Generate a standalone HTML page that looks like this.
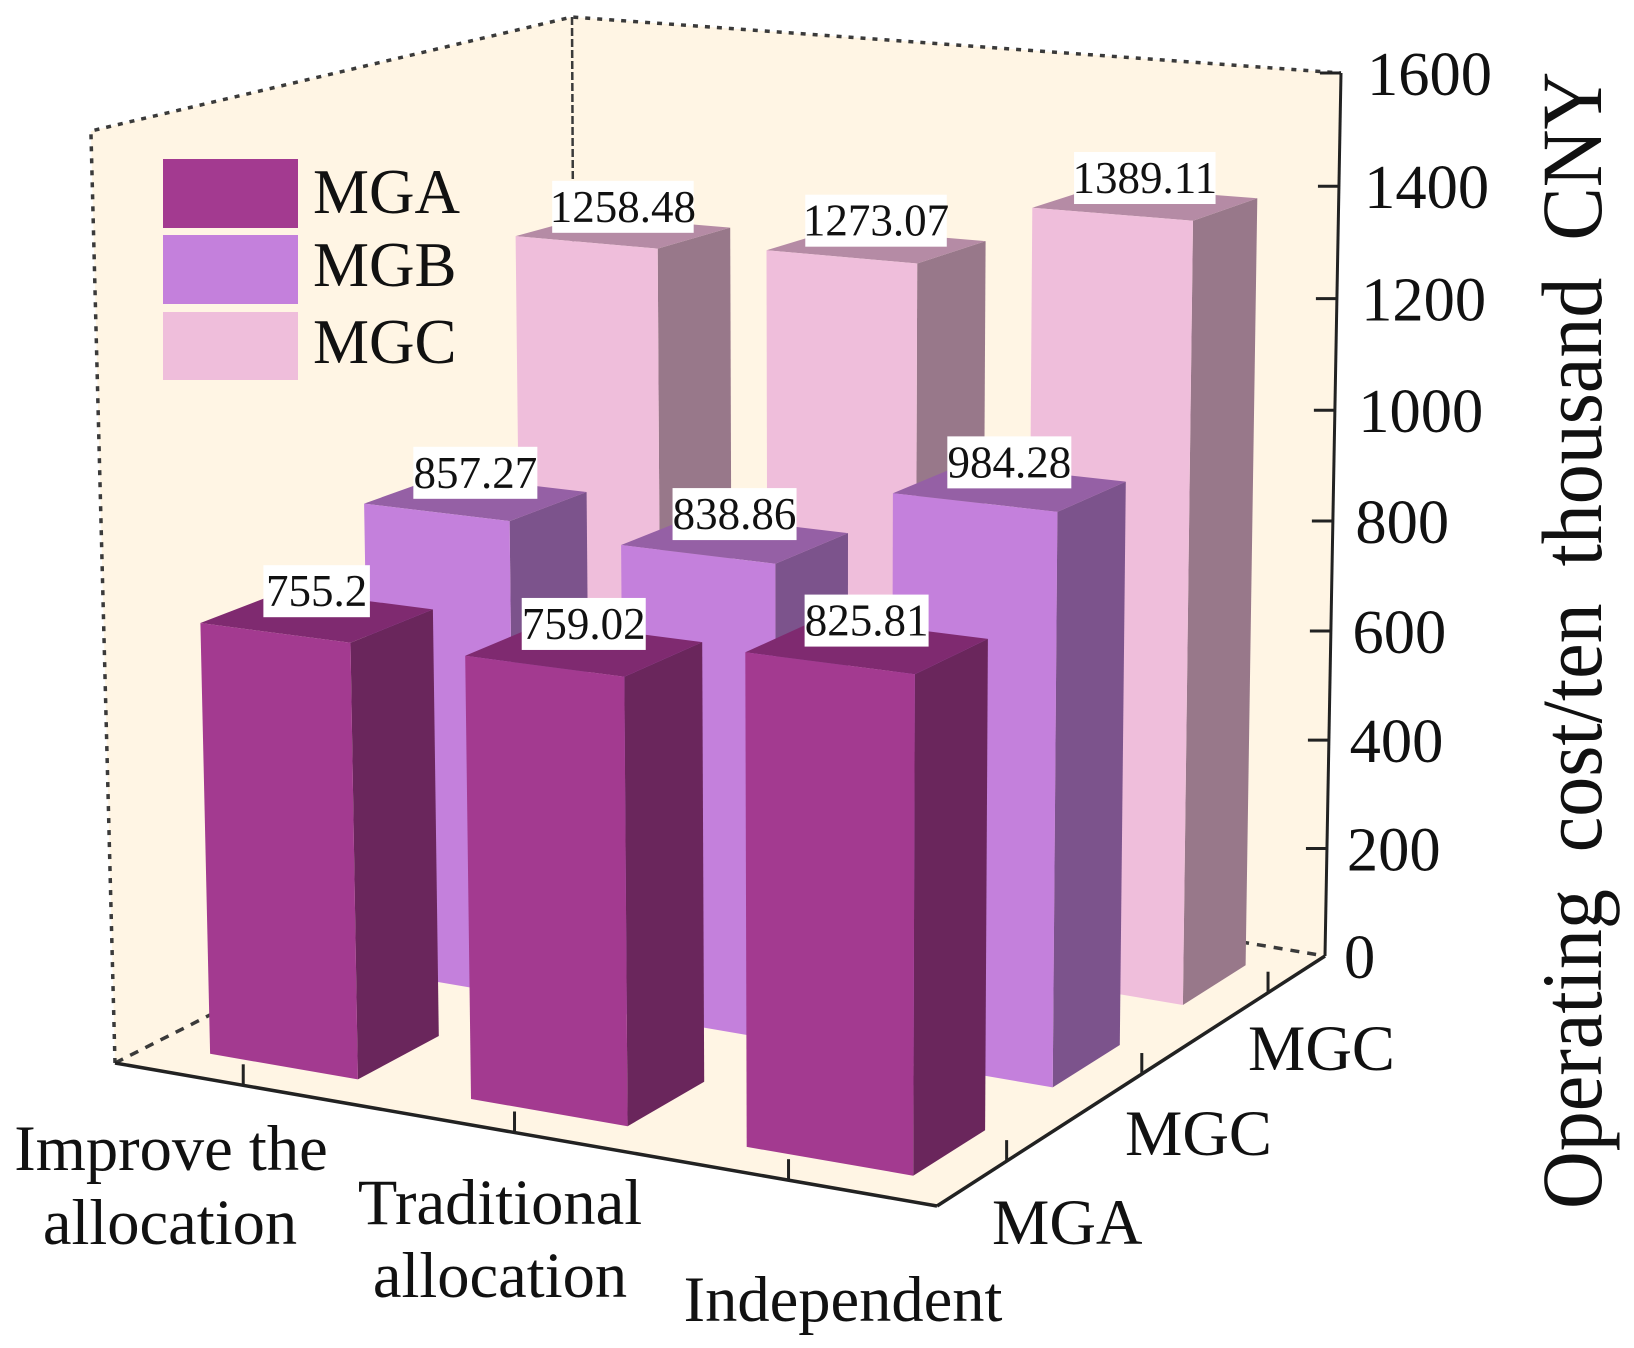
<!DOCTYPE html>
<html>
<head>
<meta charset="utf-8">
<title>Operating cost 3D bar chart</title>
<style>
html,body{margin:0;padding:0;background:#fff;}
svg{display:block;}
text{font-family:"Liberation Serif",serif;fill:#111;}
</style>
</head>
<body>
<svg id="chart" xmlns="http://www.w3.org/2000/svg" width="1634" height="1348" viewBox="0 0 1634 1348">
  <g id="frame"></g>
  <g id="bars"></g>
  <g id="labels"></g>
  <g>
    <rect x="163" y="159" width="135" height="69" fill="#A33A90"/>
    <rect x="163" y="235" width="135" height="69" fill="#C480DC"/>
    <rect x="163" y="312" width="135" height="68" fill="#EFBEDB"/>
    <text x="313" y="213" font-size="63">MGA</text>
    <text x="313" y="286" font-size="63">MGB</text>
    <text x="313" y="363" font-size="63">MGC</text>
  </g>
  <g font-size="64.5">
    <text text-anchor="middle" x="171" y="1170">Improve the</text>
    <text text-anchor="middle" x="170" y="1244">allocation</text>
    <text text-anchor="middle" x="500" y="1224">Traditional</text>
    <text text-anchor="middle" x="500" y="1297">allocation</text>
    <text text-anchor="middle" x="843" y="1321">Independent</text>
  </g>
  <g font-size="64.5">
    <text x="992" y="1244">MGA</text>
    <text x="1125" y="1155">MGC</text>
    <text x="1248" y="1070">MGC</text>
  </g>
  <text transform="translate(1601,1209) rotate(-90) scale(1,1.07)" font-size="80" word-spacing="17">Operating cost/ten thousand CNY</text>
</svg>
<script>
// ---- chart data ----
const categories = ['improve', 'traditional', 'independent'];
const seriesNames = ['mga', 'mgb', 'mgc'];
const mgaValues = [755.2, 759.02, 825.81];
const mgbValues = [857.27, 838.86, 984.28];
const mgcValues = [1258.48, 1273.07, 1389.11];
const yTicks = [0, 200, 400, 600, 800, 1000, 1200, 1400, 1600];

// ---- styling ----
const seriesColors = [
  {front: '#A33A90', side: '#6A265C', top: '#7F2A70'},
  {front: '#C480DC', side: '#7C538C', top: '#9560A5'},
  {front: '#EFBEDB', side: '#98788A', top: '#B58BA5'}
];

// ---- projection: floor homography + vertical axis ----
const NS = 'http://www.w3.org/2000/svg';
const Q = {x0: 115, y0: 1063, x1: 937, y1: 1206, x2: 1325, y2: 956, x3: 576, y3: 830};
const sx = Q.x0 - Q.x1 + Q.x2 - Q.x3, sy = Q.y0 - Q.y1 + Q.y2 - Q.y3;
const dx1 = Q.x1 - Q.x2, dx2 = Q.x3 - Q.x2, dy1 = Q.y1 - Q.y2, dy2 = Q.y3 - Q.y2;
const den = dx1 * dy2 - dx2 * dy1;
const hg = (sx * dy2 - dx2 * sy) / den, hh = (dx1 * sy - sx * dy1) / den;
function floorPoint(s, t) {
  const w = 1 + hg * s + hh * t;
  return {
    x: ((Q.x1 - Q.x0 + hg * Q.x1) * s + (Q.x3 - Q.x0 + hh * Q.x3) * t + Q.x0) / w,
    y: ((Q.y1 - Q.y0 + hg * Q.y1) * s + (Q.y3 - Q.y0 + hh * Q.y3) * t + Q.y0) / w
  };
}
function heightAt(s, t, v) {
  const k0 = 0.5653 + (0.606 - 0.5653) * s;
  const k1 = 0.487 + (0.5356 - 0.487) * s;
  const k = k0 + (k1 - k0) * t;
  return k * v * (1 + 1.9e-5 * v);
}
function project(s, t, v) {
  const p = floorPoint(s, t);
  const h = heightAt(s, t, v);
  return {x: p.x + h * (p.x - 826) * 3.63e-5, y: p.y - h};
}
function barLeft(i) { return 0.071 + 0.3223 * i + 0.0075 * i * (i - 1); }
function barRight(i) { return 0.254 + 0.3313 * i + 0.008 * i * (i - 1); }
function barFront(j) { return 0.075 + 0.3375 * j; }
function barBack(j) { return barFront(j) + 0.171; }
function catTick(i) { return 0.158 + 0.3318 * i; }
function serTick(j) { return 0.165 + 0.3375 * j; }

function svgEl(tag, attrs, parent) {
  const el = document.createElementNS(NS, tag);
  for (const k in attrs) el.setAttribute(k, attrs[k]);
  parent.appendChild(el);
  return el;
}
function pts(list) { return list.map(p => p.x.toFixed(1) + ',' + p.y.toFixed(1)).join(' '); }

// ---- frame ----
const frame = document.getElementById('frame');
const A0 = project(0, 0, 0), B0 = project(1, 0, 0), C0 = project(1, 1, 0), D0 = project(0, 1, 0);
const A1 = project(0, 0, 1600), C1 = project(1, 1, 1600);
const D1 = {x: 572, y: 17};

const leftWall = svgEl('polygon', {points: pts([A1, D1, D0, A0]), fill: '#FFF5E4'}, frame);


const rightWall = svgEl('polygon', {points: pts([D1, C1, C0, D0]), fill: '#FFF5E4'}, frame);


const floorPoly = svgEl('polygon', {points: pts([A0, B0, C0, D0]), fill: '#FFF5E4'}, frame);



const dotted = svgEl('polyline', {points: pts([A0, A1, D1, C1]), fill: 'none', stroke: '#3a3a3a', 'stroke-width': 3.5, 'stroke-dasharray': '5 7'}, frame);


const backLine = svgEl('line', {x1: D1.x, y1: D1.y, x2: D0.x, y2: D0.y, stroke: '#3a3a3a', 'stroke-width': 2.5, 'stroke-dasharray': '8 3'}, frame);


const floorDash = svgEl('polyline', {points: pts([A0, D0, C0]), fill: 'none', stroke: '#3a3a3a', 'stroke-width': 3.5, 'stroke-dasharray': '9 8'}, frame);



const xAxisLine = svgEl('line', {x1: A0.x, y1: A0.y, x2: B0.x, y2: B0.y, stroke: '#222', 'stroke-width': 3.5}, frame);


const zAxisLine = svgEl('line', {x1: B0.x, y1: B0.y, x2: C0.x, y2: C0.y, stroke: '#222', 'stroke-width': 3.5}, frame);


const yAxisLine = svgEl('line', {x1: C0.x, y1: C0.y, x2: C1.x, y2: C1.y, stroke: '#222', 'stroke-width': 3}, frame);



categories.forEach((c, i) => {
  const p = floorPoint(catTick(i), 0);
  const tick = svgEl('line', {x1: p.x, y1: p.y, x2: p.x, y2: p.y - 21, stroke: '#222', 'stroke-width': 3}, frame);
  
  
});
seriesNames.forEach((n, j) => {
  const p = floorPoint(1, serTick(j));
  const tick = svgEl('line', {x1: p.x, y1: p.y, x2: p.x, y2: p.y - 21, stroke: '#222', 'stroke-width': 3}, frame);
  
  
});
yTicks.forEach(v => {
  const p = project(1, 1, v);
  if (v > 0) {
    const tick = svgEl('line', {x1: p.x, y1: p.y, x2: p.x - 21, y2: p.y, stroke: '#222', 'stroke-width': 3}, frame);
    
    
  }
  const label = svgEl('text', {x: p.x + 19 + v / 1600 * 7, y: p.y + 22, 'font-size': 62.5}, frame);
  label.textContent = String(v);
  
  
});

// ---- bars ----
const barsLayer = document.getElementById('bars');
const labelsLayer = document.getElementById('labels');
const seriesValues = [mgaValues, mgbValues, mgcValues];

for (let j = seriesValues.length - 1; j >= 0; j--) {
  categories.forEach((c, i) => {
    const v = seriesValues[j][i];
    const sL = barLeft(i), sR = barRight(i);
    const tF = barFront(j), tB = barBack(j);
    const color = seriesColors[j];
    const barName = 'bar-' + seriesNames[j] + '-' + c;

    const g = svgEl('g', {}, barsLayer);
    
    

    const fl = project(sL, tF, v), fr = project(sR, tF, v), br = project(sR, tB, v), bl = project(sL, tB, v);
    const fl0 = project(sL, tF, 0), fr0 = project(sR, tF, 0), br0 = project(sR, tB, 0);

    const side = svgEl('polygon', {points: pts([fr, br, br0, fr0]), fill: color.side}, g);
    
    
    const top = svgEl('polygon', {points: pts([fl, fr, br, bl]), fill: color.top}, g);
    
    
    const front = svgEl('polygon', {points: pts([fl, fr, fr0, fl0]), fill: color.front}, g);
    
    

    // value label centred above the top face
    const cx = (fl.x + br.x) / 2, cy = (fl.y + br.y) / 2 - 25;
    const str = String(v);
    const boxW = str.length * 17.5 + 19;
    const box = svgEl('rect', {x: cx - boxW / 2, y: cy - 26, width: boxW, height: 52, fill: '#fff'}, labelsLayer);
    
    
    const txt = svgEl('text', {x: cx, y: cy + 15, 'text-anchor': 'middle', 'font-size': 45}, labelsLayer);
    txt.textContent = str;
    
    
  });
}
</script>
</body>
</html>
